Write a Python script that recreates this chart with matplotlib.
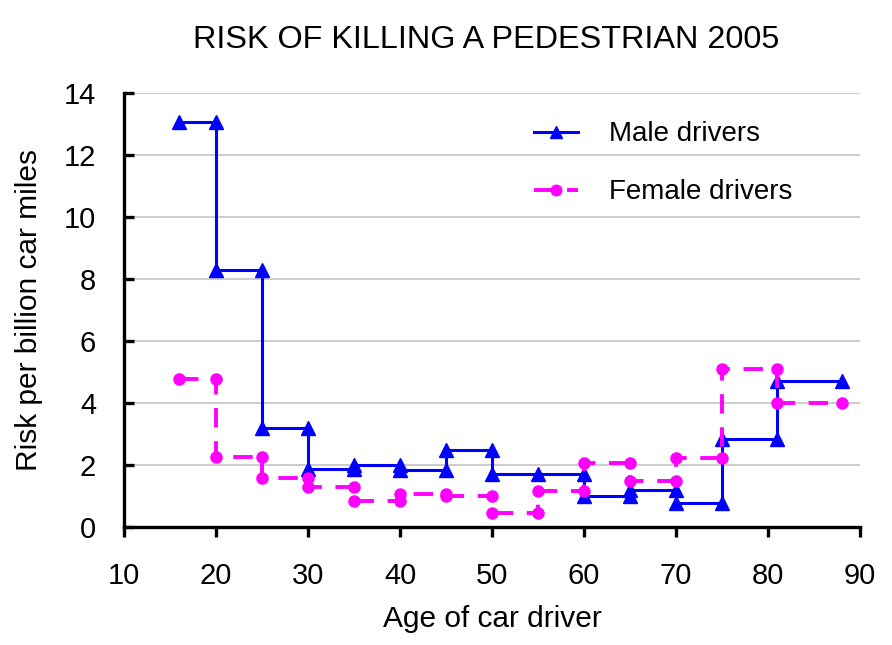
import matplotlib
matplotlib.use("Agg")
import matplotlib.pyplot as plt

male_age = [16, 20, 20, 25, 25, 30, 30, 35, 35, 40, 40, 45, 45, 50, 50, 55, 60, 60, 65, 65, 70, 70, 75, 75, 81, 81, 88]
male_risk = [13.05, 13.05, 8.3, 8.3, 3.18, 3.18, 1.88, 1.88, 2.0, 2.0, 1.85, 1.85, 2.48, 2.48, 1.72, 1.72, 1.72, 1.0, 1.0, 1.18, 1.18, 0.77, 0.77, 2.85, 2.85, 4.7, 4.7]
female_age = [16, 20, 20, 25, 25, 30, 30, 35, 35, 40, 40, 45, 45, 50, 50, 55, 55, 60, 60, 65, 65, 70, 70, 75, 75, 81, 81, 88]
female_risk = [4.77, 4.77, 2.25, 2.25, 1.58, 1.58, 1.3, 1.3, 0.84, 0.84, 1.05, 1.05, 1.0, 1.0, 0.45, 0.45, 1.15, 1.15, 2.08, 2.08, 1.48, 1.48, 2.22, 2.22, 5.1, 5.1, 4.0, 4.0]

plt.rcParams['font.family'] = ['Liberation Sans', 'DejaVu Sans']
fig = plt.figure(figsize=(8.92, 6.45), dpi=100)
ax = fig.add_axes([124/892, 1-527/645, (860-124)/892, (527-93)/645])

ax.plot(male_age, male_risk, color='#0000ff', lw=2.2, marker='^', ms=9.5, label='Male drivers', zorder=3)
ax.plot(female_age, female_risk, color='#ff00ff', lw=2.8, ls=(0, (5, 3.5)), marker='o', ms=8, label='Female drivers', zorder=3)

ax.set_xlim(10, 90)
ax.set_ylim(0, 14)
ax.set_xticks(range(10, 91, 10))
ax.set_yticks(range(0, 15, 2))
ax.yaxis.grid(True, color='#c8c8c8', lw=1.3)
ax.set_axisbelow(True)
for s in ['top', 'right']:
    ax.spines[s].set_visible(False)
for s in ['left', 'bottom']:
    ax.spines[s].set_linewidth(2.4)
ax.tick_params(axis='x', direction='out', length=7, width=2.4, labelsize=21, pad=18)
ax.tick_params(axis='y', direction='in', length=7, width=2.4, labelsize=21, pad=20)
ax.set_xlabel('Age of car driver', fontsize=21.5)
ax.set_ylabel('Risk per billion car miles', fontsize=21.5)
ax.xaxis.set_label_coords(0.5, -0.18)
ax.yaxis.set_label_coords(-0.11, 0.5)
fig.text(486/892, 1-40/645, 'RISK OF KILLING A PEDESTRIAN 2005', ha='center', va='center', fontsize=23.3)

ax.legend(loc='center left', bbox_to_anchor=(0.523, 0.838), frameon=False, fontsize=20,
          handlelength=1.6, labelspacing=1.15, handletextpad=1.1, markerscale=0.95)

fig.savefig('out.png', dpi=100)
